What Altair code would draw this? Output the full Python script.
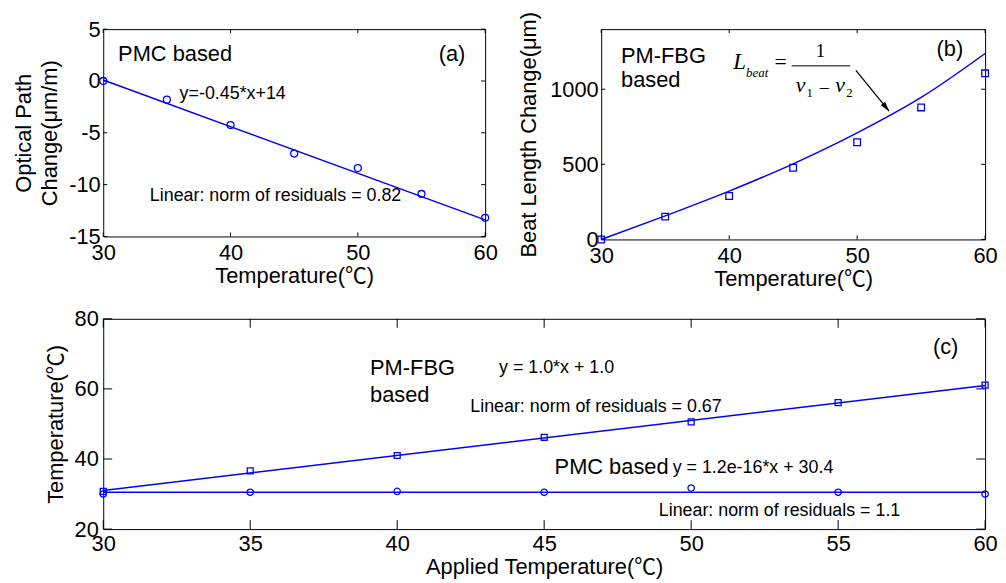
import altair as alt
import pandas as pd

BLUE = "#0000ff"
SANS = "Liberation Sans, Noto Sans CJK SC"
SERIF = "Liberation Serif"

# ---------------- data ----------------
# (a) PMC based
a_temp = [30, 35, 40, 45, 50, 55, 60]
a_change = [0.0, -1.8, -4.25, -7.0, -8.4, -10.9, -13.2]
a_fit_temp = [30, 60]
a_fit_change = [0.1, -13.4]
a_xticks = [30, 40, 50, 60]
a_yticks = [-15, -10, -5, 0, 5]

# (b) PM-FBG based
b_temp = [30, 35, 40, 45, 50, 55, 60]
b_beat = [0, 152, 289, 477, 647, 879, 1106]
b_curve_temp = [30, 35, 40, 45, 50, 55, 60]
b_curve_beat = [0, 157, 322, 503, 709, 945, 1238]
b_arrow_temp = [49.9, 52.5]
b_arrow_beat = [1126, 854]
b_xticks = [30, 40, 50, 60]
b_yticks = [0, 500, 1000]

# (c) applied vs measured temperature
c_applied = [30, 35, 40, 45, 50, 55, 60]
c_fbg = [30.75, 36.6, 41.0, 46.2, 50.6, 56.1, 61.1]
c_pmc = [30.0, 30.5, 30.75, 30.5, 31.7, 30.5, 30.0]
c_fit_applied = [30, 60]
c_fbg_fit = [31.0, 61.0]
c_pmc_fit = [30.5, 30.5]
c_xticks = [30, 35, 40, 45, 50, 55, 60]
c_yticks = [20, 40, 60, 80]


# ---------------- helpers ----------------
def df(xs, ys):
    return pd.DataFrame({"x": xs, "y": ys})


def xaxis(values, title, pad, tpad=2):
    return alt.Axis(values=values, title=title, ticks=False, domain=False, grid=False,
                    labelFlush=False, labelOverlap=False, labelPadding=pad, titlePadding=tpad,
                    labelExpr="'' + datum.value")


def yaxis(values, title, pad, extent, tpad, lh=26):
    return alt.Axis(values=values, title=title, ticks=False, domain=False, grid=False,
                    labelFlush=False, labelOverlap=False, labelPadding=pad,
                    minExtent=extent, maxExtent=extent, titlePadding=tpad,
                    titleLineHeight=lh, labelExpr="'' + datum.value")


def inner_ticks(xt, yt, X, Y, W, H, L):
    r = dict(color="black", strokeWidth=1)
    xd = pd.DataFrame({"x": xt})
    yd = pd.DataFrame({"y": yt})
    return [
        alt.Chart(xd).mark_rule(**r).encode(x=X, y=alt.value(H), y2=alt.value(H - L)),
        alt.Chart(xd).mark_rule(**r).encode(x=X, y=alt.value(0), y2=alt.value(L)),
        alt.Chart(yd).mark_rule(**r).encode(y=Y, x=alt.value(0), x2=alt.value(L)),
        alt.Chart(yd).mark_rule(**r).encode(y=Y, x=alt.value(W), x2=alt.value(W - L)),
    ]


def txt(s, x, y, size=18, align="left", baseline="middle", font=SANS, style="normal"):
    return alt.Chart(pd.DataFrame({"t": [s]})).mark_text(
        align=align, baseline=baseline, font=font, fontSize=size, fontStyle=style,
        color="black"
    ).encode(text="t:N", x=alt.value(x), y=alt.value(y))


def spacer(x, y):
    return alt.Chart(pd.DataFrame({"s": [0]})).mark_rule(opacity=0).encode(
        x=alt.value(x), x2=alt.value(x), y=alt.value(y), y2=alt.value(y))


def line(d, X, Y, **kw):
    return alt.Chart(d).mark_line(color=BLUE, strokeWidth=1.5, **kw).encode(x=X, y=Y)


def pts(d, X, Y, shape, size):
    return alt.Chart(d).mark_point(shape=shape, filled=False, color=BLUE, size=size,
                                   strokeWidth=1.3, opacity=1).encode(x=X, y=Y)


# ---------------- panel (a) ----------------
WA, HA = 385, 209
XA = alt.X("x:Q", scale=alt.Scale(domain=[30, 60], nice=False, zero=False),
           axis=xaxis(a_xticks, "Temperature(℃)", 6))
YA = alt.Y("y:Q", scale=alt.Scale(domain=[-15, 5], nice=False, zero=False),
           axis=yaxis(a_yticks, ["Optical Path", "Change(μm/m)"], 3, 36, 6))
A = alt.layer(
    spacer(-95, -17),
    *inner_ticks(a_xticks, a_yticks, XA, YA, WA, HA, 4),
    line(df(a_fit_temp, a_fit_change), XA, YA),
    pts(df(a_temp, a_change), XA, YA, "circle", 49),
    txt("PMC based", 15, 25, 22),
    txt("(a)", 365, 25, 22, align="right"),
    txt("y=-0.45*x+14", 77, 65, 18),
    txt("Linear: norm of residuals = 0.82", 47, 168, 18),
).properties(width=WA, height=HA)

# ---------------- panel (b) ----------------
WB, HB = 387, 212
XB = alt.X("x:Q", scale=alt.Scale(domain=[30, 60], nice=False, zero=False),
           axis=xaxis(b_xticks, "Temperature(℃)", 6))
YB = alt.Y("y:Q", scale=alt.Scale(domain=[0, 1400], nice=False, zero=False),
           axis=yaxis(b_yticks, "Beat Length Change(μm)", 3, 52, 9))
arrow_df = pd.DataFrame({"x": [b_arrow_temp[0]], "y": [b_arrow_beat[0]],
                         "x2": [b_arrow_temp[1]], "y2": [b_arrow_beat[1]]})
head_df = pd.DataFrame({"x": [b_arrow_temp[1]], "y": [b_arrow_beat[1]]})
B = alt.layer(
    spacer(0, HB + 60),
    *inner_ticks(b_xticks, b_yticks, XB, YB, WB, HB, 4),
    line(df(b_curve_temp, b_curve_beat), XB, YB, interpolate="monotone"),
    pts(df(b_temp, b_beat), XB, YB, "square", 45),
    alt.Chart(arrow_df).mark_rule(color="black", strokeWidth=1.3).encode(
        x=XB, y=YB, x2="x2:Q", y2="y2:Q"),
    alt.Chart(head_df).mark_point(shape="M0,0L-0.38,1.3L0.38,1.3Z", filled=True,
                                  color="black", size=230, angle=141, opacity=1).encode(x=XB, y=YB),
    txt("PM-FBG", 20, 27, 22),
    txt("based", 20, 51, 22),
    txt("(b)", 365, 20, 22, align="right"),
    # formula  L_beat = 1 / (nu1 - nu2)
    txt("L", 133, 40, 23, baseline="alphabetic", font=SERIF, style="italic"),
    txt("beat", 146, 48, 13, baseline="alphabetic", font=SERIF, style="italic"),
    txt("=", 181, 40, 22, align="center", baseline="alphabetic", font=SERIF),
    txt("1", 221, 28, 19, align="center", baseline="alphabetic", font=SERIF),
    alt.Chart(pd.DataFrame({"s": [0]})).mark_rule(color="black", strokeWidth=1).encode(
        x=alt.value(192), x2=alt.value(251), y=alt.value(37)),
    txt("ν", 196, 63, 22, baseline="alphabetic", font=SERIF, style="italic"),
    txt("1", 207, 68, 13, baseline="alphabetic", font=SERIF),
    txt("−", 225, 66, 20, align="center", baseline="alphabetic", font=SERIF),
    txt("ν", 236, 63, 22, baseline="alphabetic", font=SERIF, style="italic"),
    txt("2", 247, 68, 13, baseline="alphabetic", font=SERIF),
).properties(width=WB, height=HB)

# ---------------- panel (c) ----------------
WC, HC = 889, 212
XC = alt.X("x:Q", scale=alt.Scale(domain=[30, 60], nice=False, zero=False),
           axis=xaxis(c_xticks, "Applied Temperature(℃)", 5, 2))
YC = alt.Y("y:Q", scale=alt.Scale(domain=[20, 80], nice=False, zero=False),
           axis=yaxis(c_yticks, "Temperature(℃)", 5, 30, 6))
C = alt.layer(
    spacer(-95, -18),
    *inner_ticks(c_xticks, c_yticks, XC, YC, WC, HC, 9),
    line(df(c_fit_applied, c_fbg_fit), XC, YC),
    line(df(c_fit_applied, c_pmc_fit), XC, YC),
    pts(df(c_applied, c_fbg), XC, YC, "square", 36),
    pts(df(c_applied, c_pmc), XC, YC, "circle", 42),
    txt("PM-FBG", 269, 50, 22),
    txt("based", 269, 77, 22),
    txt("y = 1.0*x + 1.0", 399, 50, 18),
    txt("Linear: norm of residuals = 0.67", 370, 89, 18),
    txt("(c)", 862, 28, 22, align="right"),
    txt("PMC based", 455, 149, 22),
    txt("y = 1.2e-16*x + 30.4", 574, 150, 18),
    txt("Linear: norm of residuals = 1.1", 560, 194, 18),
).properties(width=WC, height=HC)

top = alt.hconcat(A, B, spacing=117, bounds="flush")
chart = alt.vconcat(top, C, spacing=0).properties(padding=0).configure_view(
    stroke="black", strokeWidth=1
).configure_axis(
    labelFont=SANS, titleFont=SANS, labelColor="black", titleColor="black",
    labelFontSize=22, titleFontSize=22, titleFontWeight="normal"
)

chart.save("out.html", embed_options={"renderer": "svg", "actions": False})
